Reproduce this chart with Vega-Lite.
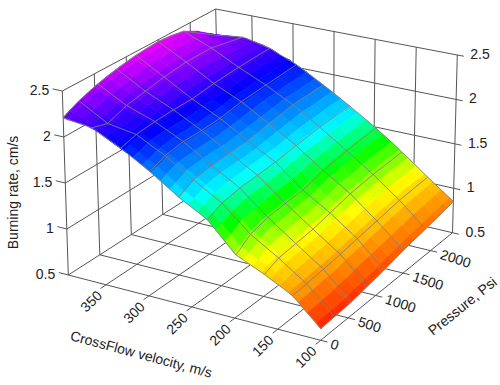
{"$schema":"https://vega.github.io/schema/vega-lite/v6.json","width":500,"height":385,"padding":0,"autosize":{"type":"fit","contains":"padding"},"background":"white","view":{"stroke":null},"config":{"font":"Liberation Sans"},
"data":{"values":[
{"v":394,"p":0,"r":2.21},{"v":394,"p":100,"r":2.25},{"v":394,"p":300,"r":2.31},{"v":394,"p":500,"r":2.36},{"v":394,"p":700,"r":2.40},{"v":394,"p":900,"r":2.43},{"v":394,"p":1100,"r":2.455},{"v":394,"p":1300,"r":2.47},{"v":394,"p":1500,"r":2.48},{"v":394,"p":1700,"r":2.47},{"v":394,"p":1900,"r":2.44},{"v":394,"p":2100,"r":2.36},{"v":394,"p":2300,"r":2.25},{"v":394,"p":2400,"r":2.19},
{"v":388.75,"p":0,"r":2.20},{"v":388.75,"p":100,"r":2.23},{"v":388.75,"p":300,"r":2.28},{"v":388.75,"p":500,"r":2.33},{"v":388.75,"p":700,"r":2.37},{"v":388.75,"p":900,"r":2.40},{"v":388.75,"p":1100,"r":2.43},{"v":388.75,"p":1300,"r":2.44},{"v":388.75,"p":1500,"r":2.45},{"v":388.75,"p":1700,"r":2.44},{"v":388.75,"p":1900,"r":2.42},{"v":388.75,"p":2100,"r":2.35},{"v":388.75,"p":2300,"r":2.25},{"v":388.75,"p":2400,"r":2.20},
{"v":378.25,"p":0,"r":2.19},{"v":378.25,"p":100,"r":2.20},{"v":378.25,"p":300,"r":2.22},{"v":378.25,"p":500,"r":2.28},{"v":378.25,"p":700,"r":2.31},{"v":378.25,"p":900,"r":2.34},{"v":378.25,"p":1100,"r":2.37},{"v":378.25,"p":1300,"r":2.38},{"v":378.25,"p":1500,"r":2.40},{"v":378.25,"p":1700,"r":2.39},{"v":378.25,"p":1900,"r":2.38},{"v":378.25,"p":2100,"r":2.32},{"v":378.25,"p":2300,"r":2.25},{"v":378.25,"p":2400,"r":2.21},
{"v":367.75,"p":0,"r":2.18},{"v":367.75,"p":100,"r":2.17},{"v":367.75,"p":300,"r":2.17},{"v":367.75,"p":500,"r":2.22},{"v":367.75,"p":700,"r":2.26},{"v":367.75,"p":900,"r":2.29},{"v":367.75,"p":1100,"r":2.31},{"v":367.75,"p":1300,"r":2.33},{"v":367.75,"p":1500,"r":2.34},{"v":367.75,"p":1700,"r":2.34},{"v":367.75,"p":1900,"r":2.34},{"v":367.75,"p":2100,"r":2.30},{"v":367.75,"p":2300,"r":2.25},{"v":367.75,"p":2400,"r":2.22},
{"v":357.25,"p":0,"r":2.15},{"v":357.25,"p":100,"r":2.14},{"v":357.25,"p":300,"r":2.12},{"v":357.25,"p":500,"r":2.18},{"v":357.25,"p":700,"r":2.21},{"v":357.25,"p":900,"r":2.24},{"v":357.25,"p":1100,"r":2.26},{"v":357.25,"p":1300,"r":2.28},{"v":357.25,"p":1500,"r":2.29},{"v":357.25,"p":1700,"r":2.30},{"v":357.25,"p":1900,"r":2.30},{"v":357.25,"p":2100,"r":2.27},{"v":357.25,"p":2300,"r":2.24},{"v":357.25,"p":2400,"r":2.22},
{"v":346.75,"p":0,"r":2.10},{"v":346.75,"p":100,"r":2.10},{"v":346.75,"p":300,"r":2.10},{"v":346.75,"p":500,"r":2.14},{"v":346.75,"p":700,"r":2.17},{"v":346.75,"p":900,"r":2.19},{"v":346.75,"p":1100,"r":2.21},{"v":346.75,"p":1300,"r":2.22},{"v":346.75,"p":1500,"r":2.24},{"v":346.75,"p":1700,"r":2.24},{"v":346.75,"p":1900,"r":2.24},{"v":346.75,"p":2100,"r":2.23},{"v":346.75,"p":2300,"r":2.22},{"v":346.75,"p":2400,"r":2.20},
{"v":336.25,"p":0,"r":2.05},{"v":336.25,"p":100,"r":2.07},{"v":336.25,"p":300,"r":2.08},{"v":336.25,"p":500,"r":2.11},{"v":336.25,"p":700,"r":2.13},{"v":336.25,"p":900,"r":2.14},{"v":336.25,"p":1100,"r":2.16},{"v":336.25,"p":1300,"r":2.17},{"v":336.25,"p":1500,"r":2.18},{"v":336.25,"p":1700,"r":2.18},{"v":336.25,"p":1900,"r":2.19},{"v":336.25,"p":2100,"r":2.19},{"v":336.25,"p":2300,"r":2.18},{"v":336.25,"p":2400,"r":2.18},
{"v":325.75,"p":0,"r":2.00},{"v":325.75,"p":100,"r":2.03},{"v":325.75,"p":300,"r":2.06},{"v":325.75,"p":500,"r":2.08},{"v":325.75,"p":700,"r":2.08},{"v":325.75,"p":900,"r":2.09},{"v":325.75,"p":1100,"r":2.09},{"v":325.75,"p":1300,"r":2.10},{"v":325.75,"p":1500,"r":2.12},{"v":325.75,"p":1700,"r":2.13},{"v":325.75,"p":1900,"r":2.14},{"v":325.75,"p":2100,"r":2.14},{"v":325.75,"p":2300,"r":2.15},{"v":325.75,"p":2400,"r":2.15},
{"v":315.25,"p":0,"r":1.95},{"v":315.25,"p":100,"r":1.97},{"v":315.25,"p":300,"r":2.02},{"v":315.25,"p":500,"r":2.03},{"v":315.25,"p":700,"r":2.03},{"v":315.25,"p":900,"r":2.03},{"v":315.25,"p":1100,"r":2.04},{"v":315.25,"p":1300,"r":2.06},{"v":315.25,"p":1500,"r":2.07},{"v":315.25,"p":1700,"r":2.08},{"v":315.25,"p":1900,"r":2.09},{"v":315.25,"p":2100,"r":2.10},{"v":315.25,"p":2300,"r":2.10},{"v":315.25,"p":2400,"r":2.10},
{"v":304.75,"p":0,"r":1.89},{"v":304.75,"p":100,"r":1.91},{"v":304.75,"p":300,"r":1.96},{"v":304.75,"p":500,"r":1.98},{"v":304.75,"p":700,"r":1.98},{"v":304.75,"p":900,"r":1.98},{"v":304.75,"p":1100,"r":1.99},{"v":304.75,"p":1300,"r":2.01},{"v":304.75,"p":1500,"r":2.03},{"v":304.75,"p":1700,"r":2.04},{"v":304.75,"p":1900,"r":2.05},{"v":304.75,"p":2100,"r":2.06},{"v":304.75,"p":2300,"r":2.07},{"v":304.75,"p":2400,"r":2.07},
{"v":294.25,"p":0,"r":1.83},{"v":294.25,"p":100,"r":1.86},{"v":294.25,"p":300,"r":1.91},{"v":294.25,"p":500,"r":1.93},{"v":294.25,"p":700,"r":1.93},{"v":294.25,"p":900,"r":1.93},{"v":294.25,"p":1100,"r":1.94},{"v":294.25,"p":1300,"r":1.96},{"v":294.25,"p":1500,"r":1.98},{"v":294.25,"p":1700,"r":1.99},{"v":294.25,"p":1900,"r":2.00},{"v":294.25,"p":2100,"r":2.01},{"v":294.25,"p":2300,"r":2.02},{"v":294.25,"p":2400,"r":2.02},
{"v":283.75,"p":0,"r":1.765},{"v":283.75,"p":100,"r":1.80},{"v":283.75,"p":300,"r":1.85},{"v":283.75,"p":500,"r":1.86},{"v":283.75,"p":700,"r":1.87},{"v":283.75,"p":900,"r":1.87},{"v":283.75,"p":1100,"r":1.88},{"v":283.75,"p":1300,"r":1.90},{"v":283.75,"p":1500,"r":1.92},{"v":283.75,"p":1700,"r":1.94},{"v":283.75,"p":1900,"r":1.95},{"v":283.75,"p":2100,"r":1.96},{"v":283.75,"p":2300,"r":1.96},{"v":283.75,"p":2400,"r":1.97},
{"v":273.25,"p":0,"r":1.70},{"v":273.25,"p":100,"r":1.73},{"v":273.25,"p":300,"r":1.79},{"v":273.25,"p":500,"r":1.80},{"v":273.25,"p":700,"r":1.81},{"v":273.25,"p":900,"r":1.81},{"v":273.25,"p":1100,"r":1.82},{"v":273.25,"p":1300,"r":1.84},{"v":273.25,"p":1500,"r":1.86},{"v":273.25,"p":1700,"r":1.88},{"v":273.25,"p":1900,"r":1.90},{"v":273.25,"p":2100,"r":1.90},{"v":273.25,"p":2300,"r":1.91},{"v":273.25,"p":2400,"r":1.91},
{"v":262.75,"p":0,"r":1.63},{"v":262.75,"p":100,"r":1.66},{"v":262.75,"p":300,"r":1.73},{"v":262.75,"p":500,"r":1.74},{"v":262.75,"p":700,"r":1.75},{"v":262.75,"p":900,"r":1.76},{"v":262.75,"p":1100,"r":1.77},{"v":262.75,"p":1300,"r":1.79},{"v":262.75,"p":1500,"r":1.81},{"v":262.75,"p":1700,"r":1.83},{"v":262.75,"p":1900,"r":1.85},{"v":262.75,"p":2100,"r":1.85},{"v":262.75,"p":2300,"r":1.86},{"v":262.75,"p":2400,"r":1.855},
{"v":252.25,"p":0,"r":1.58},{"v":252.25,"p":100,"r":1.61},{"v":252.25,"p":300,"r":1.67},{"v":252.25,"p":500,"r":1.69},{"v":252.25,"p":700,"r":1.70},{"v":252.25,"p":900,"r":1.70},{"v":252.25,"p":1100,"r":1.71},{"v":252.25,"p":1300,"r":1.73},{"v":252.25,"p":1500,"r":1.75},{"v":252.25,"p":1700,"r":1.77},{"v":252.25,"p":1900,"r":1.79},{"v":252.25,"p":2100,"r":1.79},{"v":252.25,"p":2300,"r":1.80},{"v":252.25,"p":2400,"r":1.80},
{"v":241.75,"p":0,"r":1.53},{"v":241.75,"p":100,"r":1.56},{"v":241.75,"p":300,"r":1.61},{"v":241.75,"p":500,"r":1.63},{"v":241.75,"p":700,"r":1.64},{"v":241.75,"p":900,"r":1.65},{"v":241.75,"p":1100,"r":1.66},{"v":241.75,"p":1300,"r":1.67},{"v":241.75,"p":1500,"r":1.69},{"v":241.75,"p":1700,"r":1.71},{"v":241.75,"p":1900,"r":1.72},{"v":241.75,"p":2100,"r":1.73},{"v":241.75,"p":2300,"r":1.74},{"v":241.75,"p":2400,"r":1.74},
{"v":231.25,"p":0,"r":1.475},{"v":231.25,"p":100,"r":1.50},{"v":231.25,"p":300,"r":1.55},{"v":231.25,"p":500,"r":1.57},{"v":231.25,"p":700,"r":1.58},{"v":231.25,"p":900,"r":1.59},{"v":231.25,"p":1100,"r":1.60},{"v":231.25,"p":1300,"r":1.62},{"v":231.25,"p":1500,"r":1.63},{"v":231.25,"p":1700,"r":1.65},{"v":231.25,"p":1900,"r":1.66},{"v":231.25,"p":2100,"r":1.67},{"v":231.25,"p":2300,"r":1.68},{"v":231.25,"p":2400,"r":1.68},
{"v":220.75,"p":0,"r":1.38},{"v":220.75,"p":100,"r":1.41},{"v":220.75,"p":300,"r":1.47},{"v":220.75,"p":500,"r":1.50},{"v":220.75,"p":700,"r":1.51},{"v":220.75,"p":900,"r":1.52},{"v":220.75,"p":1100,"r":1.53},{"v":220.75,"p":1300,"r":1.55},{"v":220.75,"p":1500,"r":1.57},{"v":220.75,"p":1700,"r":1.58},{"v":220.75,"p":1900,"r":1.60},{"v":220.75,"p":2100,"r":1.61},{"v":220.75,"p":2300,"r":1.62},{"v":220.75,"p":2400,"r":1.62},
{"v":210.25,"p":0,"r":1.28},{"v":210.25,"p":100,"r":1.32},{"v":210.25,"p":300,"r":1.39},{"v":210.25,"p":500,"r":1.41},{"v":210.25,"p":700,"r":1.43},{"v":210.25,"p":900,"r":1.44},{"v":210.25,"p":1100,"r":1.45},{"v":210.25,"p":1300,"r":1.47},{"v":210.25,"p":1500,"r":1.50},{"v":210.25,"p":1700,"r":1.51},{"v":210.25,"p":1900,"r":1.53},{"v":210.25,"p":2100,"r":1.54},{"v":210.25,"p":2300,"r":1.55},{"v":210.25,"p":2400,"r":1.56},
{"v":199.75,"p":0,"r":1.18},{"v":199.75,"p":100,"r":1.22},{"v":199.75,"p":300,"r":1.30},{"v":199.75,"p":500,"r":1.33},{"v":199.75,"p":700,"r":1.35},{"v":199.75,"p":900,"r":1.36},{"v":199.75,"p":1100,"r":1.37},{"v":199.75,"p":1300,"r":1.40},{"v":199.75,"p":1500,"r":1.43},{"v":199.75,"p":1700,"r":1.45},{"v":199.75,"p":1900,"r":1.47},{"v":199.75,"p":2100,"r":1.48},{"v":199.75,"p":2300,"r":1.49},{"v":199.75,"p":2400,"r":1.50},
{"v":189.25,"p":0,"r":1.135},{"v":189.25,"p":100,"r":1.17},{"v":189.25,"p":300,"r":1.24},{"v":189.25,"p":500,"r":1.27},{"v":189.25,"p":700,"r":1.28},{"v":189.25,"p":900,"r":1.30},{"v":189.25,"p":1100,"r":1.31},{"v":189.25,"p":1300,"r":1.34},{"v":189.25,"p":1500,"r":1.37},{"v":189.25,"p":1700,"r":1.39},{"v":189.25,"p":1900,"r":1.41},{"v":189.25,"p":2100,"r":1.42},{"v":189.25,"p":2300,"r":1.43},{"v":189.25,"p":2400,"r":1.435},
{"v":178.75,"p":0,"r":1.09},{"v":178.75,"p":100,"r":1.12},{"v":178.75,"p":300,"r":1.18},{"v":178.75,"p":500,"r":1.20},{"v":178.75,"p":700,"r":1.22},{"v":178.75,"p":900,"r":1.23},{"v":178.75,"p":1100,"r":1.25},{"v":178.75,"p":1300,"r":1.27},{"v":178.75,"p":1500,"r":1.31},{"v":178.75,"p":1700,"r":1.32},{"v":178.75,"p":1900,"r":1.34},{"v":178.75,"p":2100,"r":1.35},{"v":178.75,"p":2300,"r":1.36},{"v":178.75,"p":2400,"r":1.37},
{"v":168.25,"p":0,"r":1.05},{"v":168.25,"p":100,"r":1.08},{"v":168.25,"p":300,"r":1.12},{"v":168.25,"p":500,"r":1.13},{"v":168.25,"p":700,"r":1.15},{"v":168.25,"p":900,"r":1.17},{"v":168.25,"p":1100,"r":1.19},{"v":168.25,"p":1300,"r":1.22},{"v":168.25,"p":1500,"r":1.25},{"v":168.25,"p":1700,"r":1.26},{"v":168.25,"p":1900,"r":1.28},{"v":168.25,"p":2100,"r":1.29},{"v":168.25,"p":2300,"r":1.29},{"v":168.25,"p":2400,"r":1.30},
{"v":157.75,"p":0,"r":1.00},{"v":157.75,"p":100,"r":1.03},{"v":157.75,"p":300,"r":1.06},{"v":157.75,"p":500,"r":1.07},{"v":157.75,"p":700,"r":1.08},{"v":157.75,"p":900,"r":1.10},{"v":157.75,"p":1100,"r":1.13},{"v":157.75,"p":1300,"r":1.15},{"v":157.75,"p":1500,"r":1.18},{"v":157.75,"p":1700,"r":1.19},{"v":157.75,"p":1900,"r":1.21},{"v":157.75,"p":2100,"r":1.22},{"v":157.75,"p":2300,"r":1.22},{"v":157.75,"p":2400,"r":1.23},
{"v":147.25,"p":0,"r":0.96},{"v":147.25,"p":100,"r":0.97},{"v":147.25,"p":300,"r":1.00},{"v":147.25,"p":500,"r":1.01},{"v":147.25,"p":700,"r":1.02},{"v":147.25,"p":900,"r":1.04},{"v":147.25,"p":1100,"r":1.06},{"v":147.25,"p":1300,"r":1.08},{"v":147.25,"p":1500,"r":1.10},{"v":147.25,"p":1700,"r":1.12},{"v":147.25,"p":1900,"r":1.14},{"v":147.25,"p":2100,"r":1.15},{"v":147.25,"p":2300,"r":1.15},{"v":147.25,"p":2400,"r":1.165},
{"v":136.75,"p":0,"r":0.91},{"v":136.75,"p":100,"r":0.92},{"v":136.75,"p":300,"r":0.93},{"v":136.75,"p":500,"r":0.94},{"v":136.75,"p":700,"r":0.95},{"v":136.75,"p":900,"r":0.97},{"v":136.75,"p":1100,"r":0.99},{"v":136.75,"p":1300,"r":1.01},{"v":136.75,"p":1500,"r":1.03},{"v":136.75,"p":1700,"r":1.05},{"v":136.75,"p":1900,"r":1.07},{"v":136.75,"p":2100,"r":1.08},{"v":136.75,"p":2300,"r":1.08},{"v":136.75,"p":2400,"r":1.085},
{"v":126.25,"p":0,"r":0.84},{"v":126.25,"p":100,"r":0.84},{"v":126.25,"p":300,"r":0.85},{"v":126.25,"p":500,"r":0.86},{"v":126.25,"p":700,"r":0.87},{"v":126.25,"p":900,"r":0.90},{"v":126.25,"p":1100,"r":0.91},{"v":126.25,"p":1300,"r":0.93},{"v":126.25,"p":1500,"r":0.95},{"v":126.25,"p":1700,"r":0.97},{"v":126.25,"p":1900,"r":0.99},{"v":126.25,"p":2100,"r":1.00},{"v":126.25,"p":2300,"r":1.01},{"v":126.25,"p":2400,"r":1.02},
{"v":115.75,"p":0,"r":0.75},{"v":115.75,"p":100,"r":0.75},{"v":115.75,"p":300,"r":0.76},{"v":115.75,"p":500,"r":0.77},{"v":115.75,"p":700,"r":0.79},{"v":115.75,"p":900,"r":0.81},{"v":115.75,"p":1100,"r":0.83},{"v":115.75,"p":1300,"r":0.85},{"v":115.75,"p":1500,"r":0.87},{"v":115.75,"p":1700,"r":0.89},{"v":115.75,"p":1900,"r":0.91},{"v":115.75,"p":2100,"r":0.92},{"v":115.75,"p":2300,"r":0.94},{"v":115.75,"p":2400,"r":0.95},
{"v":105.25,"p":0,"r":0.67},{"v":105.25,"p":100,"r":0.67},{"v":105.25,"p":300,"r":0.67},{"v":105.25,"p":500,"r":0.68},{"v":105.25,"p":700,"r":0.70},{"v":105.25,"p":900,"r":0.72},{"v":105.25,"p":1100,"r":0.74},{"v":105.25,"p":1300,"r":0.77},{"v":105.25,"p":1500,"r":0.79},{"v":105.25,"p":1700,"r":0.81},{"v":105.25,"p":1900,"r":0.83},{"v":105.25,"p":2100,"r":0.85},{"v":105.25,"p":2300,"r":0.87},{"v":105.25,"p":2400,"r":0.885},
{"v":100,"p":0,"r":0.62},{"v":100,"p":100,"r":0.625},{"v":100,"p":300,"r":0.63},{"v":100,"p":500,"r":0.64},{"v":100,"p":700,"r":0.655},{"v":100,"p":900,"r":0.68},{"v":100,"p":1100,"r":0.70},{"v":100,"p":1300,"r":0.725},{"v":100,"p":1500,"r":0.75},{"v":100,"p":1700,"r":0.77},{"v":100,"p":1900,"r":0.79},{"v":100,"p":2100,"r":0.81},{"v":100,"p":2300,"r":0.835},{"v":100,"p":2400,"r":0.85},

{"k":"n","v":394,"p":0,"r":2.21},{"k":"n","v":394,"p":250,"r":2.30},{"k":"n","v":394,"p":550,"r":2.37},{"k":"n","v":394,"p":850,"r":2.42},{"k":"n","v":394,"p":1150,"r":2.46},{"k":"n","v":394,"p":1500,"r":2.48},{"k":"n","v":394,"p":1900,"r":2.44},{"k":"n","v":394,"p":2400,"r":2.19},
{"k":"n","v":361.3,"p":0,"r":2.17},{"k":"n","v":361.3,"p":250,"r":2.12},{"k":"n","v":361.3,"p":550,"r":2.20},{"k":"n","v":361.3,"p":850,"r":2.24},{"k":"n","v":361.3,"p":1150,"r":2.28},{"k":"n","v":361.3,"p":1500,"r":2.31},{"k":"n","v":361.3,"p":1900,"r":2.31},{"k":"n","v":361.3,"p":2400,"r":2.23},
{"k":"n","v":328.7,"p":0,"r":2.02},{"k":"n","v":328.7,"p":250,"r":2.07},{"k":"n","v":328.7,"p":550,"r":2.09},{"k":"n","v":328.7,"p":850,"r":2.10},{"k":"n","v":328.7,"p":1150,"r":2.10},{"k":"n","v":328.7,"p":1500,"r":2.13},{"k":"n","v":328.7,"p":1900,"r":2.15},{"k":"n","v":328.7,"p":2400,"r":2.16},
{"k":"n","v":296,"p":0,"r":1.84},{"k":"n","v":296,"p":250,"r":1.91},{"k":"n","v":296,"p":550,"r":1.94},{"k":"n","v":296,"p":850,"r":1.94},{"k":"n","v":296,"p":1150,"r":1.95},{"k":"n","v":296,"p":1500,"r":1.99},{"k":"n","v":296,"p":1900,"r":2.01},{"k":"n","v":296,"p":2400,"r":2.03},
{"k":"n","v":263.3,"p":0,"r":1.64},{"k":"n","v":263.3,"p":250,"r":1.72},{"k":"n","v":263.3,"p":550,"r":1.75},{"k":"n","v":263.3,"p":850,"r":1.76},{"k":"n","v":263.3,"p":1150,"r":1.77},{"k":"n","v":263.3,"p":1500,"r":1.81},{"k":"n","v":263.3,"p":1900,"r":1.85},{"k":"n","v":263.3,"p":2400,"r":1.86},
{"k":"n","v":230.7,"p":0,"r":1.47},{"k":"n","v":230.7,"p":250,"r":1.54},{"k":"n","v":230.7,"p":550,"r":1.575},{"k":"n","v":230.7,"p":850,"r":1.585},{"k":"n","v":230.7,"p":1150,"r":1.60},{"k":"n","v":230.7,"p":1500,"r":1.63},{"k":"n","v":230.7,"p":1900,"r":1.66},{"k":"n","v":230.7,"p":2400,"r":1.68},
{"k":"n","v":198,"p":0,"r":1.17},{"k":"n","v":198,"p":250,"r":1.28},{"k":"n","v":198,"p":550,"r":1.33},{"k":"n","v":198,"p":850,"r":1.35},{"k":"n","v":198,"p":1150,"r":1.36},{"k":"n","v":198,"p":1500,"r":1.42},{"k":"n","v":198,"p":1900,"r":1.46},{"k":"n","v":198,"p":2400,"r":1.49},
{"k":"n","v":165.3,"p":0,"r":1.04},{"k":"n","v":165.3,"p":250,"r":1.10},{"k":"n","v":165.3,"p":550,"r":1.12},{"k":"n","v":165.3,"p":850,"r":1.14},{"k":"n","v":165.3,"p":1150,"r":1.18},{"k":"n","v":165.3,"p":1500,"r":1.23},{"k":"n","v":165.3,"p":1900,"r":1.26},{"k":"n","v":165.3,"p":2400,"r":1.28},
{"k":"n","v":132.7,"p":0,"r":0.89},{"k":"n","v":132.7,"p":250,"r":0.90},{"k":"n","v":132.7,"p":550,"r":0.92},{"k":"n","v":132.7,"p":850,"r":0.94},{"k":"n","v":132.7,"p":1150,"r":0.97},{"k":"n","v":132.7,"p":1500,"r":1.00},{"k":"n","v":132.7,"p":1900,"r":1.04},{"k":"n","v":132.7,"p":2400,"r":1.06},
{"k":"n","v":100,"p":0,"r":0.62},{"k":"n","v":100,"p":250,"r":0.63},{"k":"n","v":100,"p":550,"r":0.64},{"k":"n","v":100,"p":850,"r":0.67},{"k":"n","v":100,"p":1150,"r":0.70},{"k":"n","v":100,"p":1500,"r":0.75},{"k":"n","v":100,"p":1900,"r":0.79},{"k":"n","v":100,"p":2400,"r":0.85},

{"k":"f","g":1,"v":394,"p":0,"r":0.5},{"k":"f","g":1,"v":92,"p":0,"r":0.5},
{"k":"f","g":2,"v":100,"p":-90,"r":0.5},{"k":"f","g":2,"v":100,"p":2400,"r":0.5},
{"k":"f","g":3,"v":150,"p":-90,"r":0.5},{"k":"f","g":3,"v":150,"p":2400,"r":0.5},
{"k":"f","g":4,"v":200,"p":-90,"r":0.5},{"k":"f","g":4,"v":200,"p":2400,"r":0.5},
{"k":"f","g":5,"v":250,"p":-90,"r":0.5},{"k":"f","g":5,"v":250,"p":2400,"r":0.5},
{"k":"f","g":6,"v":300,"p":-90,"r":0.5},{"k":"f","g":6,"v":300,"p":2400,"r":0.5},
{"k":"f","g":7,"v":350,"p":-90,"r":0.5},{"k":"f","g":7,"v":350,"p":2400,"r":0.5},
{"k":"f","g":8,"v":394,"p":0,"r":0.5},{"k":"f","g":8,"v":394,"p":2400,"r":0.5},
{"k":"f","g":9,"v":92,"p":500,"r":0.5},{"k":"f","g":9,"v":394,"p":500,"r":0.5},
{"k":"f","g":10,"v":92,"p":1000,"r":0.5},{"k":"f","g":10,"v":394,"p":1000,"r":0.5},
{"k":"f","g":11,"v":92,"p":1500,"r":0.5},{"k":"f","g":11,"v":394,"p":1500,"r":0.5},
{"k":"f","g":12,"v":92,"p":2000,"r":0.5},{"k":"f","g":12,"v":394,"p":2000,"r":0.5},
{"k":"f","g":13,"v":92,"p":2400,"r":0.5},{"k":"f","g":13,"v":394,"p":2400,"r":0.5},
{"k":"f","g":14,"v":394,"p":0,"r":1},{"k":"f","g":14,"v":394,"p":2400,"r":1},
{"k":"f","g":15,"v":394,"p":0,"r":1.5},{"k":"f","g":15,"v":394,"p":2400,"r":1.5},
{"k":"f","g":16,"v":394,"p":0,"r":2},{"k":"f","g":16,"v":394,"p":2400,"r":2},
{"k":"f","g":17,"v":394,"p":0,"r":2.5},{"k":"f","g":17,"v":394,"p":2400,"r":2.5},
{"k":"f","g":18,"v":394,"p":0,"r":0.5},{"k":"f","g":18,"v":394,"p":0,"r":2.5},
{"k":"f","g":19,"v":394,"p":500,"r":0.5},{"k":"f","g":19,"v":394,"p":500,"r":2.5},
{"k":"f","g":20,"v":394,"p":1000,"r":0.5},{"k":"f","g":20,"v":394,"p":1000,"r":2.5},
{"k":"f","g":21,"v":394,"p":1500,"r":0.5},{"k":"f","g":21,"v":394,"p":1500,"r":2.5},
{"k":"f","g":22,"v":394,"p":2000,"r":0.5},{"k":"f","g":22,"v":394,"p":2000,"r":2.5},
{"k":"f","g":23,"v":394,"p":2400,"r":0.5},{"k":"f","g":23,"v":394,"p":2400,"r":2.5},
{"k":"f","g":24,"v":394,"p":2400,"r":1},{"k":"f","g":24,"v":92,"p":2400,"r":1},
{"k":"f","g":25,"v":394,"p":2400,"r":1.5},{"k":"f","g":25,"v":92,"p":2400,"r":1.5},
{"k":"f","g":26,"v":394,"p":2400,"r":2},{"k":"f","g":26,"v":92,"p":2400,"r":2},
{"k":"f","g":27,"v":394,"p":2400,"r":2.5},{"k":"f","g":27,"v":92,"p":2400,"r":2.5},
{"k":"f","g":28,"v":350,"p":2400,"r":0.5},{"k":"f","g":28,"v":350,"p":2400,"r":2.5},
{"k":"f","g":29,"v":300,"p":2400,"r":0.5},{"k":"f","g":29,"v":300,"p":2400,"r":2.5},
{"k":"f","g":30,"v":250,"p":2400,"r":0.5},{"k":"f","g":30,"v":250,"p":2400,"r":2.5},
{"k":"f","g":31,"v":200,"p":2400,"r":0.5},{"k":"f","g":31,"v":200,"p":2400,"r":2.5},
{"k":"f","g":32,"v":150,"p":2400,"r":0.5},{"k":"f","g":32,"v":150,"p":2400,"r":2.5},
{"k":"f","g":33,"v":100,"p":2400,"r":0.5},{"k":"f","g":33,"v":100,"p":2400,"r":2.5},
{"k":"f","g":34,"v":394,"p":0,"r":0.5},{"k":"f","g":34,"v":405,"p":0,"r":0.5},
{"k":"f","g":35,"v":394,"p":0,"r":1},{"k":"f","g":35,"v":405,"p":0,"r":1},
{"k":"f","g":36,"v":394,"p":0,"r":1.5},{"k":"f","g":36,"v":405,"p":0,"r":1.5},
{"k":"f","g":37,"v":394,"p":0,"r":2},{"k":"f","g":37,"v":405,"p":0,"r":2},
{"k":"f","g":38,"v":394,"p":0,"r":2.5},{"k":"f","g":38,"v":405,"p":0,"r":2.5},

{"k":"vt","t":"350","v":350,"p":0,"r":0.5},{"k":"vt","t":"300","v":300,"p":0,"r":0.5},{"k":"vt","t":"250","v":250,"p":0,"r":0.5},{"k":"vt","t":"200","v":200,"p":0,"r":0.5},{"k":"vt","t":"150","v":150,"p":0,"r":0.5},{"k":"vt","t":"100","v":100,"p":0,"r":0.5},
{"k":"pt","t":"0","v":100,"p":0,"r":0.5},{"k":"pt","t":"500","v":100,"p":500,"r":0.5},{"k":"pt","t":"1000","v":100,"p":1000,"r":0.5},{"k":"pt","t":"1500","v":100,"p":1500,"r":0.5},{"k":"pt","t":"2000","v":100,"p":2000,"r":0.5},
{"k":"lt","t":"0.5","v":394,"p":0,"r":0.5},{"k":"lt","t":"1","v":394,"p":0,"r":1},{"k":"lt","t":"1.5","v":394,"p":0,"r":1.5},{"k":"lt","t":"2","v":394,"p":0,"r":2},{"k":"lt","t":"2.5","v":394,"p":0,"r":2.5},
{"k":"rt","t":"0.5","v":100,"p":2400,"r":0.5},{"k":"rt","t":"1","v":100,"p":2400,"r":1},{"k":"rt","t":"1.5","v":100,"p":2400,"r":1.5},{"k":"rt","t":"2","v":100,"p":2400,"r":2},{"k":"rt","t":"2.5","v":100,"p":2400,"r":2.5},
{"k":"tv","t":"CrossFlow velocity, m/s","v":237,"p":-1056,"r":0.5},
{"k":"tp","t":"Pressure, Psi","v":6,"p":1176,"r":0.5},
{"k":"tr","t":"Burning rate, cm/s","v":454,"p":0,"r":1.26}
]},
"transform":[
{"calculate":"(394-datum.v)/294","as":"u"},{"calculate":"datum.p/2400","as":"w"},{"calculate":"(datum.r-0.5)/2","as":"h"},
{"calculate":"(1-datum.h)*(68.3+252.4*datum.u+151.2*datum.w-19.4*datum.u*datum.w)+datum.h*(62.3+258.9*datum.u+153.4*datum.w-17.3*datum.u*datum.w)","as":"sx"},
{"calculate":"(1-datum.h)*(275+65.3*datum.u-97*datum.w-10.6*datum.u*datum.w)+datum.h*(91+56.6*datum.u-82*datum.w-10.6*datum.u*datum.w)","as":"sy"}
],
"encoding":{
"x":{"field":"sx","type":"quantitative","scale":{"domain":[0,500],"zero":false,"nice":false},"axis":null},
"y":{"field":"sy","type":"quantitative","scale":{"domain":[385,0],"zero":false,"nice":false},"axis":null}
},
"layer":[
{"transform":[{"filter":"datum.k=='f'"}],"mark":{"type":"line","color":"#555555","strokeWidth":1,"clip":false},"encoding":{"detail":{"field":"g","type":"nominal"},"order":{"field":"h","type":"quantitative"}}},
{"transform":[{"filter":"!datum.k"},
{"calculate":"datum.v==394?0:datum.v==100?29:1+(388.75-datum.v)/10.5","as":"i"},
{"calculate":"datum.p==0?0:datum.p==2400?13:(datum.p+100)/200","as":"j"},
{"calculate":"[0,1,2,3]","as":"c"},{"flatten":["c"]},
{"calculate":"(datum.i-(datum.c==1||datum.c==2?1:0))*100+datum.j-(datum.c==2||datum.c==3?1:0)","as":"cell"},
{"joinaggregate":[{"op":"mean","field":"r","as":"rm"},{"op":"count","as":"n"}],"groupby":["cell"]},
{"filter":"datum.n==4"}],
"mark":{"type":"line","strokeWidth":0.7,"interpolate":"linear-closed"},
"encoding":{"detail":{"field":"cell","type":"nominal"},"order":{"field":"c","type":"quantitative"},
"fill":{"field":"rm","type":"quantitative","legend":null,"scale":{"domain":[0.55,1.13,1.4,1.62,2.05,2.5],"range":["#ff0000","#ffff00","#00ff00","#00ffff","#0000ff","#ff00ff"],"interpolate":"rgb"}},
"stroke":{"field":"rm","type":"quantitative","legend":null,"scale":{"domain":[0.55,1.13,1.4,1.62,2.05,2.5],"range":["#ff0000","#ffff00","#00ff00","#00ffff","#0000ff","#ff00ff"],"interpolate":"rgb"}}}},
{"transform":[{"filter":"datum.k=='n'"}],"mark":{"type":"line","color":"#808080","strokeWidth":1,"opacity":0.85},"encoding":{"detail":{"field":"v","type":"nominal"},"order":{"field":"p","type":"quantitative"}}},
{"transform":[{"filter":"datum.k=='n'"}],"mark":{"type":"line","color":"#808080","strokeWidth":1,"opacity":0.85},"encoding":{"detail":{"field":"p","type":"nominal"},"order":{"field":"v","type":"quantitative"}}},
{"transform":[{"filter":"datum.k=='vt'"}],"mark":{"type":"text","fontSize":14,"color":"#222222","angle":315,"align":"right","baseline":"middle","dx":-10.6,"dy":2.1},"encoding":{"text":{"field":"t"}}},
{"transform":[{"filter":"datum.k=='pt'"}],"mark":{"type":"text","fontSize":14,"color":"#222222","angle":18,"align":"left","baseline":"middle","dx":10.7,"dy":0.7},"encoding":{"text":{"field":"t"}}},
{"transform":[{"filter":"datum.k=='lt'"}],"mark":{"type":"text","fontSize":14,"color":"#222222","align":"right","baseline":"middle","dx":-13},"encoding":{"text":{"field":"t"}}},
{"transform":[{"filter":"datum.k=='rt'"}],"mark":{"type":"text","fontSize":14,"color":"#222222","align":"left","baseline":"middle","dx":13},"encoding":{"text":{"field":"t"}}},
{"transform":[{"filter":"datum.k=='tv'"}],"mark":{"type":"text","fontSize":14,"color":"#222222","angle":15,"align":"center","baseline":"middle"},"encoding":{"text":{"field":"t"}}},
{"transform":[{"filter":"datum.k=='tp'"}],"mark":{"type":"text","fontSize":14,"color":"#222222","angle":321,"align":"center","baseline":"middle"},"encoding":{"text":{"field":"t"}}},
{"transform":[{"filter":"datum.k=='tr'"}],"mark":{"type":"text","fontSize":14,"color":"#222222","angle":270,"align":"center","baseline":"middle"},"encoding":{"text":{"field":"t"}}}
]}
